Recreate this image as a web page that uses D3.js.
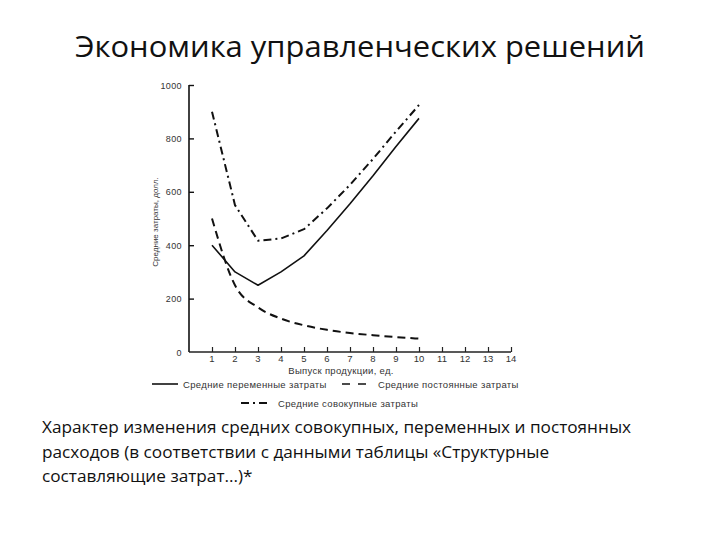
<!DOCTYPE html>
<html><head><meta charset="utf-8">
<script src="https://cdn.jsdelivr.net/npm/d3@7"></script>
<style>body{margin:0;background:#fff}</style>
</head><body>
<svg id="c" width="720" height="540"></svg>
<script>
const output = [1,2,3,4,5,6,7,8,9,10];
const avgVariable = [400,300,250,300,360,455,555,660,770,875];
const avgFixed = [500,250,167,125,100,83,71,63,56,50];
const avgTotal = [900,550,417,425,460,538,626,723,826,925];
const xTicks = [1,2,3,4,5,6,7,8,9,10,11,12,13,14];
const yTicks = [0,200,400,600,800,1000];
const title = "Экономика управленческих решений";
const caption = ["Характер изменения средних совокупных, переменных и постоянных",
  "расходов (в соответствии с данными таблицы «Структурные",
  "составляющие затрат...)*"];

const svg = d3.select("#c");
const x = d3.scaleLinear().domain([0,14]).range([189,511]);
const y = d3.scaleLinear().domain([0,1000]).range([352,85]);
const txt = "#333";
const sf = "'Liberation Sans', Arial, sans-serif";

svg.append("text").attr("x",360).attr("y",57).attr("text-anchor","middle")
  .attr("font-family","'Open Sans', sans-serif").attr("font-size",29)
  .attr("textLength",570).attr("lengthAdjust","spacingAndGlyphs")
  .attr("fill","#111").text(title);

// axes
const gy = svg.append("g").attr("transform","translate(189,0)")
  .call(d3.axisRight(y).tickValues(yTicks.filter(d=>d>0)).tickSize(5).tickFormat(""));
gy.select(".domain").attr("stroke","#111").attr("stroke-width",1.6).attr("d","M0,85V352");
gy.selectAll(".tick line").attr("stroke","#111").attr("stroke-width",1.4);
svg.selectAll(".ylab").data(yTicks).join("text").attr("class","ylab")
  .attr("x",182).attr("y",d=>y(d)+3.5).attr("text-anchor","end")
  .attr("font-family",sf).attr("font-size",9).attr("letter-spacing",0.4).attr("fill",txt).text(d=>d);

const gx = svg.append("g").attr("transform","translate(0,352)")
  .call(d3.axisTop(x).tickValues(xTicks).tickSize(5).tickFormat(""));
gx.select(".domain").attr("stroke","#222").attr("stroke-width",1.4).attr("d","M189,0H511");
gx.selectAll(".tick line").attr("stroke","#222").attr("stroke-width",1.2);
svg.selectAll(".xlab").data(xTicks).join("text").attr("class","xlab")
  .attr("x",d=>x(d)).attr("y",362).attr("text-anchor","middle")
  .attr("font-family",sf).attr("font-size",9.5).attr("fill",txt).text(d=>d);

svg.append("text").attr("x",341).attr("y",374).attr("text-anchor","middle")
  .attr("font-family",sf).attr("font-size",9.5).attr("letter-spacing",0.3).attr("fill",txt).text("Выпуск продукции, ед.");
svg.append("text").attr("transform","translate(158,222) rotate(-90)").attr("text-anchor","middle")
  .attr("font-family",sf).attr("font-size",8).attr("fill",txt).text("Средние затраты, долл.");

// lines
const line = d3.line().x((d,i)=>x(output[i])).y(d=>y(d)).curve(d3.curveLinear);
const smooth = d3.line().x((d,i)=>x(output[i])).y(d=>y(d)).curve(d3.curveMonotoneX);
const styles = [
  {data:avgVariable, dash:null, w:1.6, gen:line},
  {data:avgFixed, dash:"8,5", w:2, gen:smooth},
  {data:avgTotal, dash:"8,4,2,4", w:2, gen:line}
];
styles.forEach(s=>{
  svg.append("path").attr("d",s.gen(s.data)).attr("fill","none").attr("stroke","#111")
    .attr("stroke-width",s.w).attr("stroke-dasharray",s.dash).attr("stroke-linejoin","round");
});

// legend
const lg = [
  {x1:152,x2:178,y:384,dash:null,w:1.6,tx:183,label:"Средние переменные затраты"},
  {x1:342,x2:366,y:384,dash:"8,8",w:1.6,tx:378,label:"Средние постоянные затраты"},
  {x1:241,x2:270,y:403,dash:"8,4,2,4",w:1.8,tx:278,label:"Средние совокупные затраты"}
];
lg.forEach(l=>{
  svg.append("line").attr("x1",l.x1).attr("x2",l.x2).attr("y1",l.y).attr("y2",l.y)
    .attr("stroke","#111").attr("stroke-width",l.w).attr("stroke-dasharray",l.dash);
  svg.append("text").attr("x",l.tx).attr("y",l.y+3.5).attr("font-family",sf)
    .attr("font-size",9.5).attr("letter-spacing",0.35).attr("fill",txt).text(l.label);
});

svg.selectAll(".cap").data(caption).join("text").attr("class","cap")
  .attr("x",42).attr("y",(d,i)=>433+i*24.5).attr("font-family","'Open Sans', sans-serif")
  .attr("font-size",17.2).attr("fill","#111").text(d=>d);
</script>
</body></html>
